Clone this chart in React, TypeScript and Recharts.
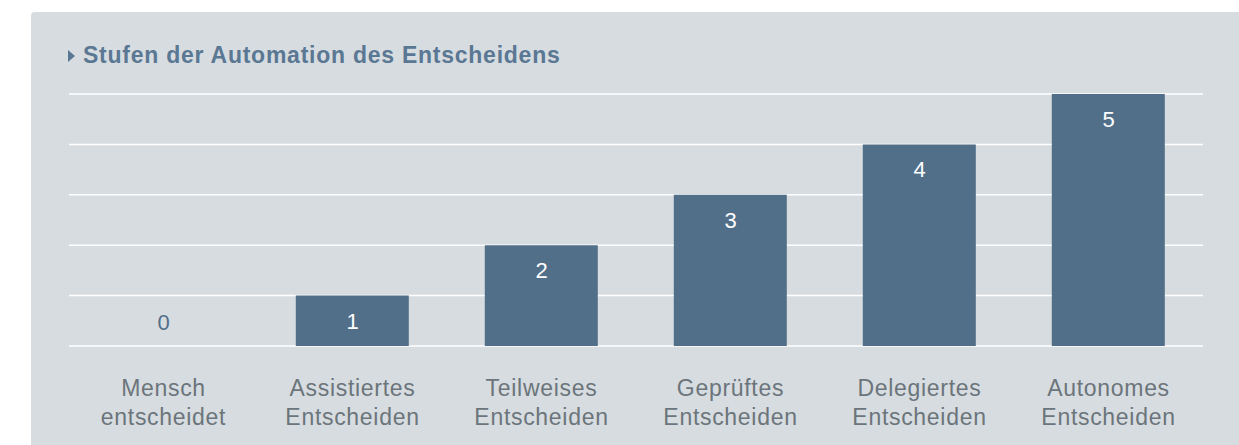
import { ComposedChart, Bar, Line, XAxis, YAxis, CartesianGrid, LabelList } from 'recharts';

// Stufen der Automation des Entscheidens (level 0..5)
const categories = [
  'Mensch\nentscheidet',
  'Assistiertes\nEntscheiden',
  'Teilweises\nEntscheiden',
  'Geprüftes\nEntscheiden',
  'Delegiertes\nEntscheiden',
  'Autonomes\nEntscheiden',
];
const levels = [0, 1, 2, 3, 4, 5];
const levelTicks = [0, 1, 2, 3, 4, 5];

const data = categories.map((name, i) => ({ name, level: levels[i] }));

const FONT = '"Liberation Sans", Arial, Helvetica, sans-serif';
const BAR_COLOR = '#526f8a';
const PANEL_BG = '#d7dce0';

function CategoryTick({ x, y, payload }: any) {
  const lines = String(payload.value).split('\n');
  return (
    <text x={x} y={y} textAnchor="middle" fill="#6b757b" fontSize={23} fontFamily={FONT} letterSpacing={0.7}>
      {lines.map((line, i) => (
        <tspan key={i} x={x} dy={i === 0 ? 50 : 29}>
          {line}
        </tspan>
      ))}
    </text>
  );
}

// values sit inside the bar top; a zero bar gets its label above the baseline
function ValueLabel(props: any) {
  const { x, y, value } = props;
  const isZero = Number(value) === 0;
  return (
    <text
      x={Number(x)}
      y={isZero ? Number(y) - 16 : Number(y) + 33}
      textAnchor="middle"
      fill={isZero ? BAR_COLOR : '#ffffff'}
      fontSize={22}
      fontFamily={FONT}
    >
      {value}
    </text>
  );
}

export default function App() {
  return (
    <div style={{ position: 'relative', width: 1239, height: 445, overflow: 'hidden' }}>
      <style>{'html,body{margin:0;padding:0;overflow:hidden;}'}</style>
      {/* grey panel */}
      <div
        style={{
          position: 'absolute',
          left: 31,
          top: 12,
          right: -10,
          bottom: -10,
          background: PANEL_BG,
          borderTopLeftRadius: 4,
        }}
      />

      {/* title */}
      <div
        style={{
          position: 'absolute',
          left: 68,
          top: 42,
          display: 'flex',
          alignItems: 'center',
          fontFamily: FONT,
          fontWeight: 'bold',
          fontSize: 23,
          letterSpacing: 0.75,
          color: '#5a7793',
          whiteSpace: 'nowrap',
        }}
      >
        <span
          style={{
            display: 'inline-block',
            width: 0,
            height: 0,
            borderTop: '6px solid transparent',
            borderBottom: '6px solid transparent',
            borderLeft: '7px solid #5a7793',
            marginRight: 8,
          }}
        />
        Stufen der Automation des Entscheidens
      </div>

      <div style={{ position: 'absolute', left: 0, top: 0 }}>
        <ComposedChart
          width={1239}
          height={445}
          data={data}
          margin={{ top: 94, right: 36, bottom: 39, left: 69 }}
          barCategoryGap="20%"
        >
          <CartesianGrid vertical={false} stroke="#ffffff" strokeWidth={1.5} />
          <XAxis
            dataKey="name"
            axisLine={false}
            tickLine={false}
            tickSize={0}
            tickMargin={0}
            height={60}
            interval={0}
            tick={<CategoryTick />}
          />
          <YAxis hide domain={[0, 5]} ticks={levelTicks} width={0} />
          <Bar dataKey="level" fill={BAR_COLOR} isAnimationActive={false} />
          {/* invisible line carries the value labels, so the zero level gets one too */}
          <Line dataKey="level" stroke="none" dot={false} activeDot={false} isAnimationActive={false}>
            <LabelList dataKey="level" content={<ValueLabel />} />
          </Line>
        </ComposedChart>
      </div>
    </div>
  );
}
